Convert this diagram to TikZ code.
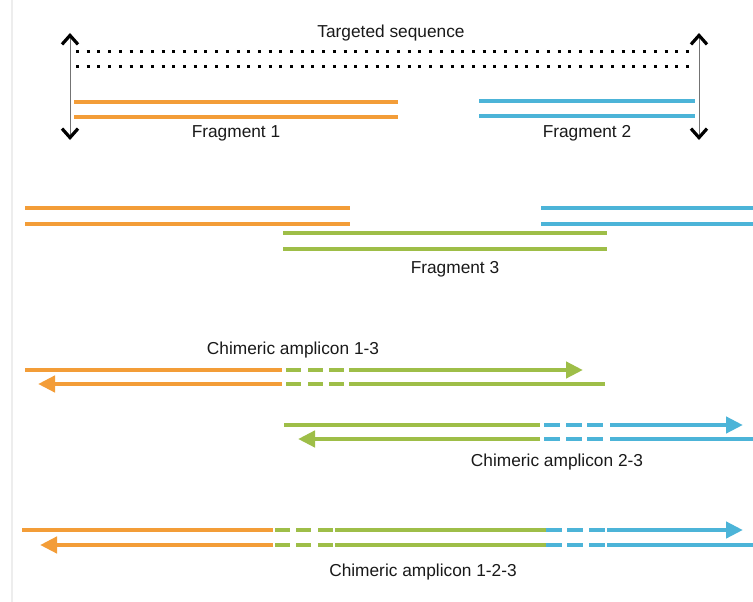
\documentclass[tikz,border=0pt]{standalone}
\usepackage{fontspec}
\setmainfont{Liberation Sans}
\usetikzlibrary{arrows.meta}
\definecolor{fragone}{RGB}{243,157,56}
\definecolor{fragtwo}{RGB}{76,180,216}
\definecolor{fragthree}{RGB}{158,190,72}

\begin{document}
\begin{tikzpicture}
        [x=1pt, y=-1pt,
         strand/.style={line width=4.5pt},
         tip/.style={-{Triangle[length=17pt, width=16pt]}},
         barb/.style={{Straight Barb[length=9pt, width=16pt, line width=3.2pt, color=black]}-{Straight Barb[length=9pt, width=16pt, line width=3.2pt, color=black]}},
         lbl/.style={font=\fontsize{17.3}{20}\selectfont, text=black!90}]

        \useasboundingbox (0,0) rectangle (753,602);
        \draw[black!7, line width=1.5pt] (12,0) -- (12,602);

        \node[lbl] (target) at (391,33) {Targeted sequence};
        \foreach \y in {52, 67}
        \draw[line width=3pt, dash pattern=on 3pt off 7.7pt] (76,\y) -- (696,\y);

        \coordinate (left-top) at (70,33);
        \coordinate (left-bot) at (70,140);
        \coordinate (right-top) at (699,33);
        \coordinate (right-bot) at (699,140);
        \draw[barb, black!55, line width=1pt] (left-top) -- (left-bot);
        \draw[barb, black!55, line width=1pt] (right-top) -- (right-bot);

        \foreach \y in {102, 117}
        {
        \draw[strand, fragone] (74,\y) -- (398,\y);
        \draw[strand, fragtwo] (479,\y-1) -- (695,\y-1);
        }
        \node[lbl] (frag-1) at (236,133) {Fragment 1};
        \node[lbl] (frag-2) at (587,133) {Fragment 2};

        \foreach \y in {208, 224}
        {
        \draw[strand, fragone] (25,\y) -- (350,\y);
        \draw[strand, fragtwo] (541,\y) -- (753,\y);
        \draw[strand, fragthree] (283,\y+25) -- (607,\y+25);
        }
        \node[lbl] (frag-3) at (455,269) {Fragment 3};

        \node[lbl] (chim-13) at (293,350) {Chimeric amplicon 1-3};
        \draw[strand, fragone] (25,370) -- (282,370);
        \draw[strand, fragone, tip] (282,384) -- (38,384);
        \foreach \a in {286, 308, 329}
        \foreach \y in {370, 384}
        \draw[strand, fragthree] (\a,\y) -- ++(15,0);
        \draw[strand, fragthree, tip] (349,370) -- (583,370);
        \draw[strand, fragthree] (349,384) -- (605,384);

        \draw[strand, fragthree] (284,425) -- (540,425);
        \draw[strand, fragthree, tip] (540,439) -- (298,439);
        \foreach \a in {544, 566, 587}
        \foreach \y in {425, 439}
        \draw[strand, fragtwo] (\a,\y) -- ++(16,0);
        \draw[strand, fragtwo, tip] (610,425) -- (743,425);
        \draw[strand, fragtwo] (610,439) -- (753,439);
        \node[lbl] (chim-23) at (557,462) {Chimeric amplicon 2-3};

        \draw[strand, fragone] (22,530) -- (273,530);
        \draw[strand, fragone, tip] (273,545) -- (40,545);
        \foreach \a in {275, 296, 318}
        \foreach \y in {530, 545}
        \draw[strand, fragthree] (\a,\y) -- ++(15,0);
        \draw[strand, fragthree] (335,530) -- (546,530);
        \draw[strand, fragthree] (335,545) -- (546,545);
        \foreach \a in {546, 567, 589}
        \foreach \y in {530, 545}
        \draw[strand, fragtwo] (\a,\y) -- ++(16,0);
        \draw[strand, fragtwo, tip] (607,530) -- (743,530);
        \draw[strand, fragtwo] (607,545) -- (753,545);
        \node[lbl] (chim-123) at (423,572) {Chimeric amplicon 1-2-3};
\end{tikzpicture}
\end{document}
